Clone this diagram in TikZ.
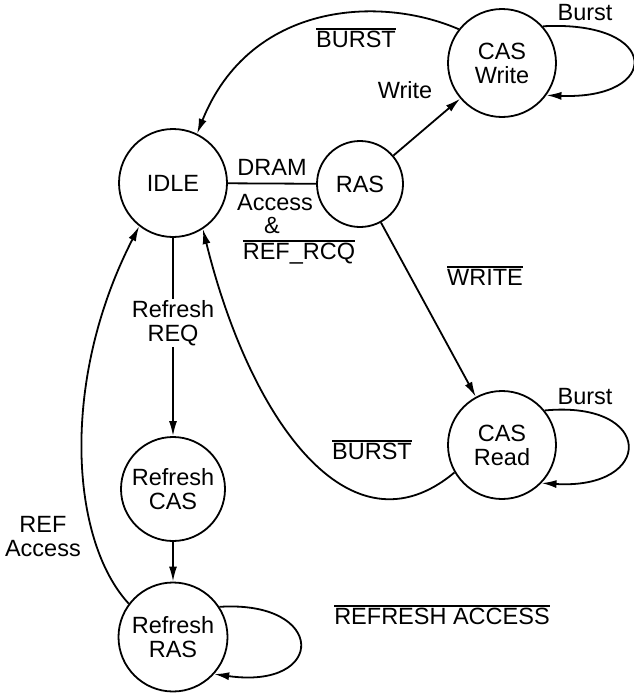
\documentclass[tikz,border=0pt]{standalone}
\usepackage{fontspec}
\setmainfont{Liberation Sans}
\usetikzlibrary{arrows.meta}
\newcommand{\ovlabel}[1]{\leavevmode\vbox{\hrule height 1.6pt\kern1.5pt\hbox{#1}}}

\begin{document}
\begin{tikzpicture}[x=1pt,y=-1pt,font=\fontsize{23.5}{24}\selectfont,
    state/.style={circle,draw,line width=1.8pt,inner sep=0pt,align=center,minimum size=108pt},
    trans/.style={line width=1.8pt,-{Latex[length=15pt,width=8pt]}},
    lbl/.style={inner sep=1pt,align=center}]
    \useasboundingbox (0,0) rectangle (634,696);

    % States
    \node [state] (idle) at (173,183) {IDLE};
    \node [state,minimum size=86pt] (ras) at (360,184) {RAS};
    \node [state] (caswr) at (502,63) {CAS\\Write};
    \node [state] (casrd) at (502,445) {CAS\\Read};
    \node [state,minimum size=104pt] (refcas) at (173,489) {Refresh\\CAS};
    \node [state,minimum size=109pt] (refras) at (173,637) {Refresh\\RAS};

    % DRAM access path
    \draw [line width=1.8pt] (idle) -- (ras);
    \node [lbl] (dram) at (272,167) {DRAM};
    \node [lbl] (acc) at (275,203) {Access};
    \node [lbl,inner sep=0pt] (amp) at (272,225) {\&};
    \node [lbl,inner sep=0pt] (refrcq) at (299,252) {\ovlabel{REF\_RCQ}};

    \draw [trans] (ras) -- (caswr);
    \node [lbl] (wr) at (405,90) {Write};
    \draw [trans] (ras) -- (casrd);
    \node [lbl] (nwr) at (485,276) {\ovlabel{WRITE}};

    % Burst loops
    \draw [trans] (caswr.42) .. controls (662,20) and (662,100) .. (caswr.-36);
    \node [lbl] (bwr) at (585,13) {Burst};
    \draw [trans] (casrd.39) .. controls (655,400) and (655,490) .. (casrd.-44);
    \node [lbl] (brd) at (585,397) {Burst};

    % Back to IDLE
    \draw [trans] (caswr.142) .. controls (380,-5) and (250,2) .. (idle.64);
    \node [lbl] (nbwr) at (356,38) {\ovlabel{BURST}};
    \draw [trans] (casrd.210) .. controls (350,560) and (250,420) .. (idle.-57);
    \node [lbl] (nbrd) at (372,450) {\ovlabel{BURST}};

    % Refresh path
    \draw [trans] (idle) -- (refcas) node [lbl,fill=white,pos=0.43] (req) {Refresh\\REQ};
    \draw [trans] (refcas) -- (refras);
    \draw [trans] (refras.33) .. controls (327,600) and (327,690) .. (refras.-42);
    \node [lbl] (nref) at (442,615) {\ovlabel{REFRESH ACCESS}};
    \draw [trans] (refras.143) .. controls (70,540) and (60,380) .. (idle.232);
    \node [lbl,anchor=east] (refacc) at (82,537) {REF\\Access};
\end{tikzpicture}
\end{document}
